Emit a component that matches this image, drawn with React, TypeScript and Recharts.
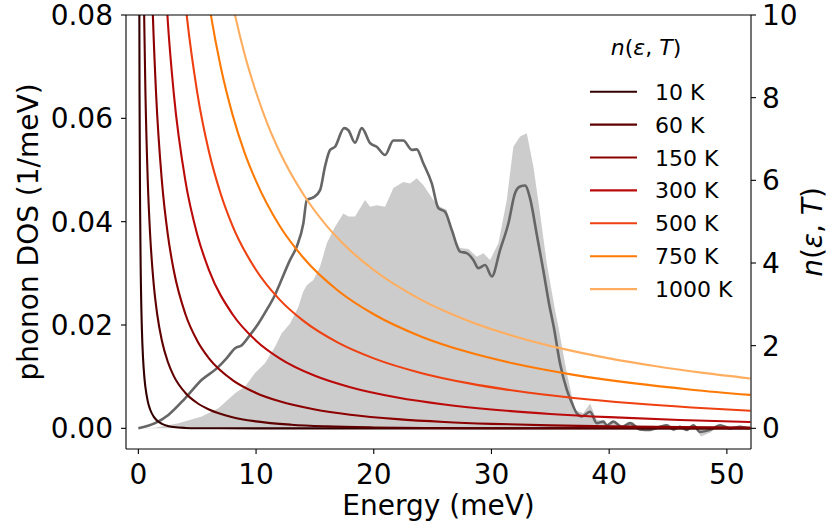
import React from 'react';
import { ComposedChart, Line, Area, XAxis, YAxis, Legend, ReferenceLine, Label } from 'recharts';

const FONT = '"DejaVu Sans", sans-serif';

// x-axis and tick labels
const energyTicks = [0, 10, 20, 30, 40, 50];
const dosTicks = [0, 0.02, 0.04, 0.06, 0.08];
const occupationTicks = [0, 2, 4, 6, 8, 10];

// legend
const temperatureLabels = ['10 K', '60 K', '150 K', '300 K', '500 K', '750 K', '1000 K'];
const temperatureKeys = ['t10', 't60', 't150', 't300', 't500', 't750', 't1000'];
const temperatureColors = ['#330000', '#5e0000', '#8c0000', '#bb0a0a', '#ee4010', '#ff7a05', '#ffae60'];

// phonon DOS, filled (grey area)
const dosFillEnergy = [0, 1.42, 3.4, 5.39, 6.8, 8.22, 9.07, 9.91, 10.76, 11.61, 12.18, 12.89, 13.59, 13.99, 14.31, 14.87, 15.44, 16.01, 16.71, 17.42, 17.84, 18.41, 19.26, 19.69, 20.25, 20.96, 21.67, 22.51, 23.08, 23.65, 24.21, 25.06, 25.63, 26.2, 26.63, 27.33, 28.04, 28.75, 29.31, 29.88, 30.59, 31.3, 31.86, 32.43, 33.0, 33.56, 34.13, 34.7, 35.4, 35.68, 36.4, 37.1, 37.81, 38.38, 38.95, 39.5, 40.0, 40.4, 41.0, 41.8, 42.6, 43.5, 44.3, 44.9, 45.5, 46.0, 46.6, 47.2, 47.8, 48.6, 49.4, 50.3, 51.1, 51.8];
const dosFillValue = [0, 0.0001, 0.001, 0.0023, 0.0039, 0.0068, 0.0081, 0.0107, 0.0126, 0.0158, 0.0184, 0.0203, 0.0235, 0.0264, 0.0277, 0.0287, 0.0313, 0.0358, 0.039, 0.0416, 0.041, 0.041, 0.0442, 0.0429, 0.0432, 0.0429, 0.0465, 0.0477, 0.0474, 0.0484, 0.0471, 0.0442, 0.0429, 0.0423, 0.0378, 0.0349, 0.0347, 0.0332, 0.0339, 0.0326, 0.0358, 0.0442, 0.0545, 0.0565, 0.0571, 0.0507, 0.0416, 0.0319, 0.0229, 0.0197, 0.0107, 0.0035, 0.0029, 0.0048, 0.0016, 0.0015, 0.0003, 0.0015, 0.0, 0.001, -0.0005, -0.0005, 0.0003, 0.0008, -0.0006, 0.0003, -0.0005, 0.0006, -0.0016, -0.0008, 0.0006, -0.0002, 0.0004, -0.0002];

// phonon DOS, line (dark grey)
const dosLineEnergy = [0, 1.42, 2.55, 3.97, 5.39, 6.66, 7.51, 8.22, 8.79, 9.5, 10.2, 11.05, 11.61, 12.04, 12.89, 13.46, 14.02, 14.31, 14.87, 15.44, 15.86, 16.29, 16.71, 17.48, 17.84, 18.41, 18.98, 19.69, 20.25, 20.96, 21.67, 22.51, 23.23, 23.65, 24.21, 24.93, 25.49, 26.06, 26.63, 27.33, 27.9, 28.46, 28.89, 29.46, 30.03, 30.73, 31.44, 32.0, 32.43, 32.85, 33.28, 33.85, 34.41, 34.9, 35.3, 35.83, 36.4, 36.82, 37.25, 37.67, 38.38, 38.95, 39.51, 39.8, 40.36, 41.07, 41.78, 42.63, 43.48, 44.33, 44.89, 45.45, 46.02, 46.59, 47.15, 47.72, 48.57, 49.42, 50.27, 51.12, 51.83];
const dosLineValue = [0, 0.001, 0.0026, 0.0058, 0.0094, 0.0116, 0.0136, 0.0155, 0.0161, 0.0181, 0.0203, 0.0235, 0.0258, 0.0281, 0.0326, 0.0352, 0.0397, 0.0442, 0.0447, 0.0461, 0.0507, 0.0539, 0.0545, 0.0581, 0.0577, 0.0553, 0.0581, 0.0552, 0.0545, 0.0529, 0.0557, 0.0557, 0.0539, 0.054, 0.0513, 0.0474, 0.0426, 0.0419, 0.0384, 0.0342, 0.0339, 0.0326, 0.031, 0.0316, 0.0294, 0.0345, 0.0397, 0.0455, 0.0468, 0.047, 0.0445, 0.0375, 0.0305, 0.024, 0.0195, 0.0125, 0.0075, 0.005, 0.0029, 0.0023, 0.0032, 0.001, 0.0013, 0.0006, 0.0013, 0.0003, 0.001, -0.0002, -0.0003, 0.0003, 0.0006, -0.0002, 0.0003, -0.0003, 0.0006, -0.0007, -0.0003, 0.0006, 0.0, 0.0003, 0.0];

// occupation n(eps, T)
const n10Energy = [0.07, 0.1, 0.15, 0.2, 0.3, 0.4, 0.5, 0.6, 0.8, 1.0, 1.3, 1.6, 2.0, 2.5, 3, 4, 5, 7, 10, 20, 52];
const n10Value = [11.82, 8.13, 5.26, 3.83, 2.4, 1.69, 1.27, 0.994, 0.653, 0.456, 0.284, 0.185, 0.109, 0.058, 0.0317, 0.0097, 0.003, 0.0003, 0, 0, 0];
const n60Energy = [0.4, 0.5, 0.6, 0.8, 1.0, 1.3, 1.6, 2.0, 2.5, 3, 4, 5, 6, 8, 10, 13, 16, 20, 25, 30, 40, 52];
const n60Value = [12.43, 9.85, 8.13, 5.98, 4.69, 3.5, 2.76, 2.12, 1.61, 1.27, 0.856, 0.613, 0.456, 0.27, 0.169, 0.088, 0.0474, 0.0213, 0.008, 0.003, 0.0004, 0];
const n150Energy = [1.0, 1.2, 1.5, 2, 2.5, 3, 4, 5, 6, 8, 10, 12, 15, 18, 22, 26, 30, 35, 40, 46, 52];
const n150Value = [12.43, 10.28, 8.13, 5.98, 4.69, 3.83, 2.76, 2.12, 1.693, 1.167, 0.856, 0.653, 0.456, 0.3305, 0.2229, 0.1544, 0.1088, 0.0714, 0.0474, 0.0294, 0.0182];
const n300Energy = [2, 2.5, 3, 4, 5, 6, 8, 10, 12, 15, 18, 22, 26, 30, 35, 40, 46, 52];
const n300Value = [12.43, 9.85, 8.13, 5.98, 4.69, 3.83, 2.76, 2.12, 1.693, 1.27, 0.9938, 0.7451, 0.5767, 0.456, 0.3481, 0.27, 0.203, 0.1544];
const n500Energy = [3.5, 4, 5, 6, 7, 8, 10, 12, 14, 17, 20, 24, 28, 32, 37, 42, 47, 52];
const n500Value = [11.82, 10.28, 8.13, 6.69, 5.67, 4.9, 3.83, 3.114, 2.605, 2.067, 1.693, 1.341, 1.093, 0.9077, 0.7352, 0.6058, 0.5059, 0.4268];
const n750Energy = [5.5, 6, 7, 8, 9, 10, 12, 14, 17, 20, 24, 28, 32, 37, 42, 47, 52];
const n750Value = [11.26, 10.28, 8.74, 7.59, 6.69, 5.98, 4.9, 4.134, 3.323, 2.76, 2.224, 1.844, 1.561, 1.294, 1.093, 0.9351, 0.8091];
const n1000Energy = [7.5, 8, 9, 10, 11, 12, 14, 16, 18, 20, 24, 28, 32, 36, 40, 44, 48, 52];
const n1000Value = [11.0, 10.28, 9.08, 8.13, 7.34, 6.69, 5.67, 4.9, 4.305, 3.83, 3.114, 2.605, 2.224, 1.928, 1.693, 1.501, 1.341, 1.207];

const occupationEnergies = [n10Energy, n60Energy, n150Energy, n300Energy, n500Energy, n750Energy, n1000Energy];
const occupationValues = [n10Value, n60Value, n150Value, n300Value, n500Value, n750Value, n1000Value];

function buildTable() {
  const rows = new Map<number, any>();
  const put = (es: number[], vs: number[], key: string) => {
    es.forEach((e, i) => {
      let r = rows.get(e);
      if (!r) {
        r = { E: e };
        rows.set(e, r);
      }
      r[key] = vs[i];
    });
  };
  put(dosFillEnergy, dosFillValue, 'fill');
  put(dosLineEnergy, dosLineValue, 'dos');
  temperatureKeys.forEach((k, i) => put(occupationEnergies[i], occupationValues[i], k));
  return Array.from(rows.values()).sort((a, b) => a.E - b.E);
}

const table = buildTable();

const tickStyle = { fontSize: 28, fill: '#000', fontFamily: FONT };
const axisLine = { stroke: '#000', strokeWidth: 1.1 };
const tickLine = { stroke: '#000', strokeWidth: 1.1 };

const MathN = () => (
  <>
    <tspan fontStyle="italic">n</tspan>
    <tspan>(</tspan>
    <tspan fontStyle="italic">ε</tspan>
    <tspan>, </tspan>
    <tspan fontStyle="italic">T</tspan>
    <tspan>)</tspan>
  </>
);

const XTitle = (props: any) => {
  const vb = props.viewBox || { x: 126, y: 449, width: 625, height: 80 };
  return (
    <text x={vb.x + vb.width / 2} y={515} textAnchor="middle" fontSize={28} fontFamily={FONT} fill="#000">
      Energy (meV)
    </text>
  );
};

const LeftTitle = (props: any) => {
  const vb = props.viewBox || { x: 0, y: 15, width: 126, height: 434 };
  const cy = vb.y + vb.height / 2;
  const x = 38;
  return (
    <text x={x} y={cy} transform={`rotate(-90, ${x}, ${cy})`} textAnchor="middle" fontSize={28} fontFamily={FONT} fill="#000">
      phonon DOS (1/meV)
    </text>
  );
};

const RightTitle = (props: any) => {
  const vb = props.viewBox || { x: 751, y: 15, width: 82, height: 434 };
  const cy = vb.y + vb.height / 2;
  const x = 822;
  return (
    <text x={x} y={cy} transform={`rotate(-90, ${x}, ${cy})`} textAnchor="middle" fontSize={28} fontFamily={FONT} fill="#000">
      <MathN />
    </text>
  );
};

const LegendBox = () => (
  <svg width={170} height={290} style={{ display: 'block', overflow: 'visible' }}>
    <text x={66} y={35} textAnchor="middle" fontSize={22} fontFamily={FONT} fill="#000">
      <MathN />
    </text>
    {temperatureLabels.map((lab, i) => {
      const cy = 71.7 + i * 32.9;
      return (
        <g key={lab}>
          <line x1={10} x2={57} y1={cy} y2={cy} stroke={temperatureColors[i]} strokeWidth={2.1} />
          <text x={75} y={cy + 8} fontSize={22} fontFamily={FONT} fill="#000">
            {lab}
          </text>
        </g>
      );
    })}
  </svg>
);

export default function App() {
  return (
    <div style={{ position: 'absolute', left: 0, top: 0, width: 833, height: 529, background: '#fff' }}>
      <ComposedChart width={833} height={529} data={table} margin={{ top: 15, right: 0, bottom: 0, left: 0 }}>
        <XAxis
          dataKey="E"
          type="number"
          domain={[-1.05, 52.05]}
          ticks={energyTicks}
          interval={0}
          allowDataOverflow
          height={80}
          tickSize={5}
          tickMargin={10}
          tick={tickStyle}
          axisLine={axisLine}
          tickLine={tickLine}
          label={<Label content={XTitle} />}
        />
        <YAxis
          yAxisId="dos"
          orientation="left"
          width={126}
          domain={[-0.004, 0.08]}
          ticks={dosTicks}
          interval={0}
          allowDataOverflow
          tickFormatter={(v: number) => v.toFixed(2)}
          tickSize={5}
          tickMargin={8}
          tick={tickStyle}
          axisLine={axisLine}
          tickLine={tickLine}
          label={<Label content={LeftTitle} />}
        />
        <YAxis
          yAxisId="n"
          orientation="right"
          width={82}
          domain={[-0.5, 10]}
          ticks={occupationTicks}
          interval={0}
          allowDataOverflow
          tickSize={5}
          tickMargin={6}
          tick={tickStyle}
          axisLine={axisLine}
          tickLine={tickLine}
          label={<Label content={RightTitle} />}
        />
        <Area
          yAxisId="dos"
          dataKey="fill"
          type="linear"
          stroke="none"
          fill="#cccccc"
          fillOpacity={1}
          connectNulls
          legendType="none"
          isAnimationActive={false}
        />
        <Line
          yAxisId="dos"
          dataKey="dos"
          type="monotone"
          stroke="#666666"
          strokeWidth={2.6}
          dot={false}
          connectNulls
          legendType="none"
          isAnimationActive={false}
        />
        {temperatureKeys.map((k, i) => (
          <Line
            key={k}
            yAxisId="n"
            dataKey={k}
            name={temperatureLabels[i]}
            type="monotone"
            stroke={temperatureColors[i]}
            strokeWidth={2.1}
            dot={false}
            connectNulls
            isAnimationActive={false}
          />
        ))}
        <ReferenceLine yAxisId="dos" y={0.08} stroke="#000" strokeWidth={1.1} ifOverflow="visible" />
        <Legend
          layout="horizontal"
          verticalAlign="middle"
          align="center"
          content={LegendBox}
          wrapperStyle={{ left: 580, top: 20, width: 170, height: 290 }}
        />
      </ComposedChart>
    </div>
  );
}
